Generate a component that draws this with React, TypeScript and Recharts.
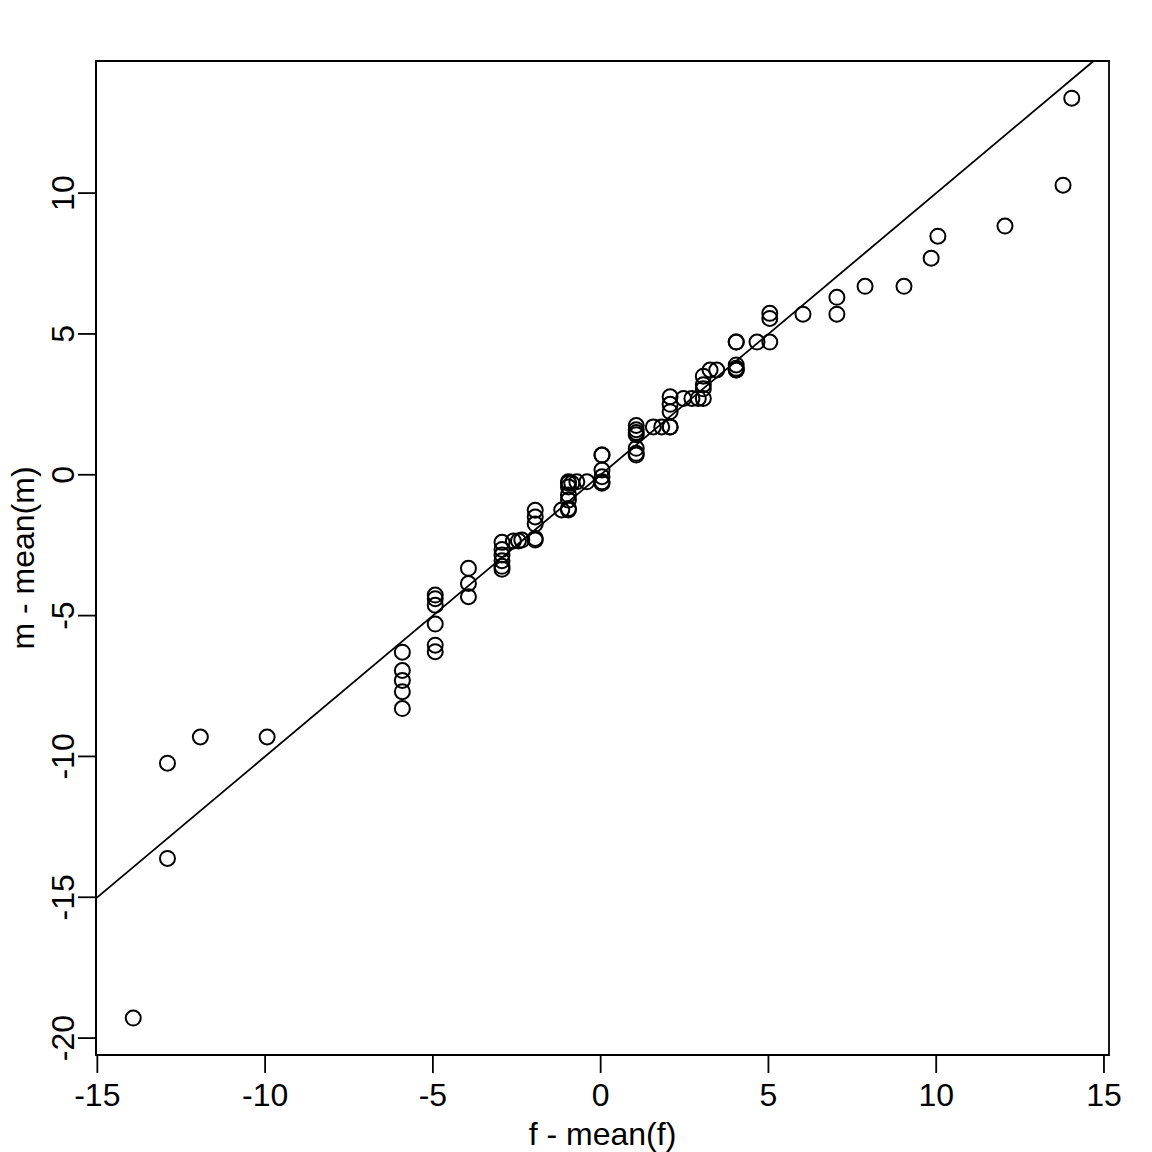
import React from 'react';
import { ScatterChart, Scatter, XAxis, YAxis, ReferenceLine, ReferenceArea } from 'recharts';

// deviations from the mean
const fDev = [
  -13.93, -12.91, -12.91, -11.93, -9.94,
  -5.91, -5.91, -5.91, -5.91, -5.91,
  -4.93, -4.93, -4.93, -4.93, -4.93, -4.93,
  -3.94, -3.94, -3.94,
  -2.94, -2.94, -2.94, -2.94, -2.94, -2.94,
  -2.6, -2.45, -2.35,
  -1.95, -1.95, -1.95, -1.95, -1.95,
  -1.16,
  -0.96, -0.96, -0.96, -0.96, -0.96, -0.96, -0.96,
  -0.86, -0.71, -0.41,
  0.04, 0.04, 0.04, 0.04, 0.04, 0.04,
  1.06, 1.06, 1.06, 1.06, 1.06, 1.06, 1.06,
  1.57, 1.82,
  2.07, 2.07, 2.07, 2.07, 2.07,
  2.47, 2.72, 2.91,
  3.06, 3.06, 3.06, 3.06, 3.26, 3.46,
  4.04, 4.04, 4.04, 4.04, 4.04, 4.04,
  4.66,
  5.04, 5.04, 5.04,
  6.03, 7.04, 7.04, 7.88, 9.04, 9.85, 10.05, 12.05, 13.78, 14.04,
];

const mDev = [
  -19.29, -13.62, -10.24, -9.31, -9.31,
  -6.3, -6.95, -7.3, -7.7, -8.3,
  -4.27, -4.4, -4.63, -5.3, -6.05, -6.28,
  -3.32, -3.86, -4.33,
  -2.4, -2.65, -2.85, -3.05, -3.25, -3.35,
  -2.35, -2.35, -2.32,
  -1.26, -1.5, -1.75, -2.26, -2.32,
  -1.25,
  -1.25, -1.2, -0.9, -0.72, -0.43, -0.3, -0.25,
  -0.3, -0.25, -0.25,
  0.7, 0.7, 0.17, -0.07, -0.25, -0.3,
  1.75, 1.6, 1.5, 1.42, 0.94, 0.76, 0.7,
  1.7, 1.7,
  2.77, 2.5, 2.24, 1.7, 1.7,
  2.71, 2.71, 2.71,
  2.71, 3.05, 3.2, 3.5, 3.72, 3.72,
  4.71, 4.71, 3.9, 3.78, 3.72, 3.72,
  4.71,
  5.73, 5.55, 4.71,
  5.7, 6.3, 5.7, 6.69, 6.69, 7.69, 8.47, 8.83, 10.28, 13.37,
];

const xTicks = [-15, -10, -5, 0, 5, 10, 15];
const yTicks = [-20, -15, -10, -5, 0, 5, 10];

const xDomain = [-15.04, 15.15];
const yDomain = [-20.6, 14.69];

// fitted line m = slope * f + intercept
const slope = 1;
const intercept = 0;

const data = fDev.map((f, i) => ({ f, m: mDev[i] }));

const FONT = '"Liberation Sans", Arial, Helvetica, sans-serif';
const FS = 32;

const lineX0 = xDomain[0];
const lineX1 = (yDomain[1] - intercept) / slope;

function XTick(props: any) {
  const { x, y, payload } = props;
  return (
    <text x={x} y={y} dy="0.71em" textAnchor="middle" fontFamily={FONT} fontSize={FS} fill="#000">
      {payload.value}
    </text>
  );
}

function YTick(props: any) {
  const { x, y, payload } = props;
  return (
    <text x={x} y={y} textAnchor="middle" transform={`rotate(-90 ${x} ${y})`} fontFamily={FONT} fontSize={FS} fill="#000">
      {payload.value}
    </text>
  );
}

const Ring = (p: any) => (
  <circle cx={p.cx} cy={p.cy} r={7.5} fill="none" stroke="#000" strokeWidth={2} />
);

export default function App() {
  return (
    <div style={{ position: 'absolute', left: 0, top: 0, background: '#fff' }}>
      <ScatterChart width={1152} height={1152} margin={{ top: 61, right: 43, left: 0, bottom: 0 }}>
        <XAxis
          type="number"
          dataKey="f"
          domain={xDomain}
          ticks={xTicks}
          allowDataOverflow
          height={97}
          tickSize={18}
          tickMargin={10}
          tick={<XTick />}
          stroke="#000"
          strokeWidth={1.8}
          label={{
            content: (lp: any) => {
              const vb = lp.viewBox;
              return (
                <text x={vb.x + vb.width / 2} y={vb.y + 90} textAnchor="middle" fontFamily={FONT} fontSize={FS} fill="#000">
                  f - mean(f)
                </text>
              );
            },
          }}
        />
        <YAxis
          type="number"
          dataKey="m"
          domain={yDomain}
          ticks={yTicks}
          allowDataOverflow
          width={96}
          tickSize={18}
          tickMargin={4}
          tick={<YTick />}
          stroke="#000"
          strokeWidth={1.8}
          label={{
            content: (lp: any) => {
              const vb = lp.viewBox;
              const cx = vb.x + 34;
              const cy = vb.y + vb.height / 2;
              return (
                <text x={cx} y={cy} textAnchor="middle" transform={`rotate(-90 ${cx} ${cy})`} fontFamily={FONT} fontSize={FS} fill="#000">
                  m - mean(m)
                </text>
              );
            },
          }}
        />
        <ReferenceArea
          x1={xDomain[0]}
          x2={xDomain[1]}
          y1={yDomain[0]}
          y2={yDomain[1]}
          fill="none"
          fillOpacity={0}
          stroke="#000"
          strokeWidth={1.8}
          ifOverflow="visible"
        />
        <ReferenceLine
          segment={[
            { x: lineX0, y: slope * lineX0 + intercept },
            { x: lineX1, y: slope * lineX1 + intercept },
          ]}
          stroke="#000"
          strokeWidth={1.8}
          ifOverflow="visible"
        />
        <Scatter data={data} shape={Ring} isAnimationActive={false} />
      </ScatterChart>
    </div>
  );
}
